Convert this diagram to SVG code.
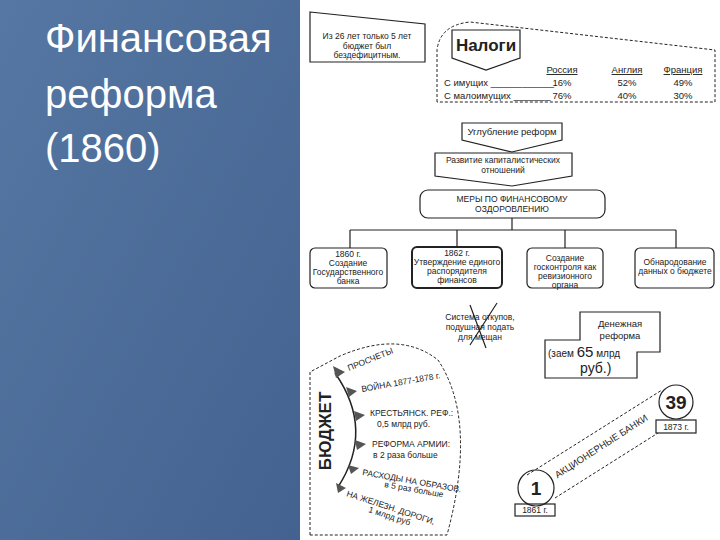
<svg xmlns="http://www.w3.org/2000/svg" width="720" height="540" viewBox="0 0 720 540">
<defs>
<style>
text{font-family:"Liberation Sans",Arial,sans-serif;fill:#222}
.s{font-size:8.5px}
.m{font-size:9.5px}
.b{fill:none;stroke:#222;stroke-width:1.2}
.d{fill:none;stroke:#222;stroke-width:1;stroke-dasharray:3,2}
.c{text-anchor:middle}
</style>
<linearGradient id="bg" x1="0" y1="0" x2="1" y2="1"><stop offset="0" stop-color="#5677a3"/><stop offset="1" stop-color="#44628f"/></linearGradient>
</defs>
<rect width="720" height="540" fill="#fff"/>
<rect width="300" height="540" fill="url(#bg)"/>
<g id="title"><text x="45" y="52" style="font-size:40px;fill:#fff">Финансовая</text><text x="45" y="108" style="font-size:40px;fill:#fff">реформа</text><text x="45" y="162" style="font-size:40px;fill:#fff">(1860)</text></g>
<g id="deficit"><polygon points="310,12 425,24 425,62 310,62" class="b"/><text class="s c" x="367" y="39">Из 26 лет только 5 лет</text><text class="s c" x="367" y="49">бюджет был</text><text class="s c" x="367" y="58">бездефицитным.</text></g>
<g id="taxes"><path d="M437,102 L437,50 Q440,25 470,22 L715,50 L715,102 Z" class="d"/>
<path d="M452,30 H520 V58 L486,70 L452,58 Z" class="b" fill="#fff"/><text x="486" y="51" class="c" style="font-size:17px;font-weight:bold">Налоги</text>
<text class="m c" x="562" y="73" text-decoration="underline">Россия</text><text class="m c" x="627" y="73" text-decoration="underline">Англия</text><text class="m c" x="683" y="73" text-decoration="underline">Франция</text>
<text class="m" x="444" y="86">С имущих ____________</text><text class="m c" x="562" y="86">16%</text><text class="m c" x="627" y="86">52%</text><text class="m c" x="683" y="86">49%</text>
<text class="m" x="444" y="99">С малоимущих _______</text><text class="m c" x="562" y="99">76%</text><text class="m c" x="627" y="99">40%</text><text class="m c" x="683" y="99">30%</text></g>
<g id="deep"><path d="M462,123 H562 V140 L512,152 L462,140 Z" class="b" fill="#fff"/><text class="m c" x="512" y="135">Углубление реформ</text></g>
<g id="capital"><path d="M435,153 H572 V176 L512,186 L435,176 Z" class="b" fill="#fff"/><text class="s c" x="503" y="163">Развитие капиталистических</text><text class="s c" x="503" y="173">отношений</text></g>
<g id="measures"><rect x="420" y="190" width="185" height="28" rx="8" class="b"/><text class="s c" x="512" y="202">МЕРЫ ПО ФИНАНСОВОМУ</text><text class="s c" x="512" y="212">ОЗДОРОВЛЕНИЮ</text></g>
<g id="connectors" class="b"><path d="M512,218 V230 M350,230 H676 M350,230 V248 M457,230 V247 M565,230 V248 M676,230 V248" class="b"/></g>
<g id="m1"><rect x="310" y="248" width="77" height="40" rx="5" class="b"/><text class="s c" x="348" y="257">1860 г.</text><text class="s c" x="348" y="266">Создание</text><text class="s c" x="348" y="275">Государственного</text><text class="s c" x="348" y="284">банка</text></g>
<g id="m2"><rect x="412" y="247" width="90" height="41" rx="5" class="b" style="stroke-width:2"/><text class="s c" x="457" y="256">1862 г.</text><text class="s c" x="457" y="265">Утверждение единого</text><text class="s c" x="457" y="274">распорядителя</text><text class="s c" x="457" y="283">финансов</text></g>
<g id="m3"><rect x="527" y="248" width="76" height="40" rx="5" class="b"/><text class="s c" x="565" y="261">Создание</text><text class="s c" x="565" y="270">госконтроля как</text><text class="s c" x="565" y="279">ревизионного</text><text class="s c" x="565" y="288">органа</text></g>
<g id="m4"><rect x="635" y="248" width="79" height="40" rx="5" class="b"/><text class="s c" x="675" y="265">Обнародование</text><text class="s c" x="675" y="274">данных о бюджете</text></g>
<g id="abolished"><text class="s c" x="480" y="320">Система откупов,</text><text class="s c" x="480" y="330">подушная подать</text><text class="s c" x="480" y="340">для мещан</text><path d="M470,345 L497,303 M470,305 L486,348" class="b"/></g>
<g id="money"><polygon points="580,312 660,312 660,352 637,352 637,378 545,378 545,340 580,340" class="b"/><text class="m c" x="620" y="327">Денежная</text><text class="m c" x="620" y="339">реформа</text><text x="548" y="357" style="font-size:10px">(заем <tspan style="font-size:15px">65</tspan> млрд</text><text x="580" y="373" style="font-size:14px">руб.)</text></g>
<g id="banks"><path d="M527,475 L662,390 M555,498 L658,433" class="d"/>
<text class="m c" transform="translate(603,449) rotate(-33)">АКЦИОНЕРНЫЕ БАНКИ</text>
<circle cx="676" cy="402" r="17" class="b" fill="#fff"/><text x="676" y="409" class="c" style="font-size:19px;font-weight:bold">39</text>
<rect x="656" y="420" width="40" height="13" class="b" fill="#fff"/><text class="s c" x="676" y="430">1873 г.</text>
<circle cx="536" cy="488" r="18" class="b" fill="#fff"/><text x="536" y="495" class="c" style="font-size:19px;font-weight:bold">1</text>
<rect x="515" y="504" width="40" height="12" class="b" fill="#fff"/><text class="s c" x="535" y="513">1861 г.</text></g>
<g id="budget"><path d="M310,535 L310,372 L340,356 Q400,330 438,360 Q478,420 447,535 Z" class="d"/>
<text transform="translate(331,431) rotate(-90)" class="c" style="font-size:17px;font-weight:bold">БЮДЖЕТ</text>
<path d="M335,373 Q375,430 338,487" class="b" style="stroke-width:1.5"/>
<g fill="#555"><polygon points="333,366 345,372 336,378"/><polygon points="346,387 357,391 349,397"/><polygon points="354,411 365,415 356,421"/><polygon points="355,440 366,444 357,450"/><polygon points="348,465 359,468 351,474"/><polygon points="336,483 346,488 338,493"/></g>
<text class="s" transform="translate(349,371) rotate(-22)">ПРОСЧЕТЫ</text>
<text class="s" transform="translate(362,392) rotate(-10)">ВОЙНА 1877-1878 г.</text>
<text class="s" x="370" y="416">КРЕСТЬЯНСК. РЕФ.:</text><text class="s" x="377" y="427">0,5 млрд руб.</text>
<text class="s" x="372" y="447">РЕФОРМА АРМИИ:</text><text class="s" x="373" y="458">в 2 раза больше</text>
<text class="s" transform="translate(362,475) rotate(10)">РАСХОДЫ НА ОБРАЗОВ.</text><text class="s" transform="translate(384,487) rotate(10)">в 5 раз больше</text>
<text class="s" transform="translate(346,496) rotate(18)">НА ЖЕЛЕЗН. ДОРОГИ,</text><text class="s" transform="translate(368,512) rotate(18)">1 млрд руб</text></g>
</svg>
